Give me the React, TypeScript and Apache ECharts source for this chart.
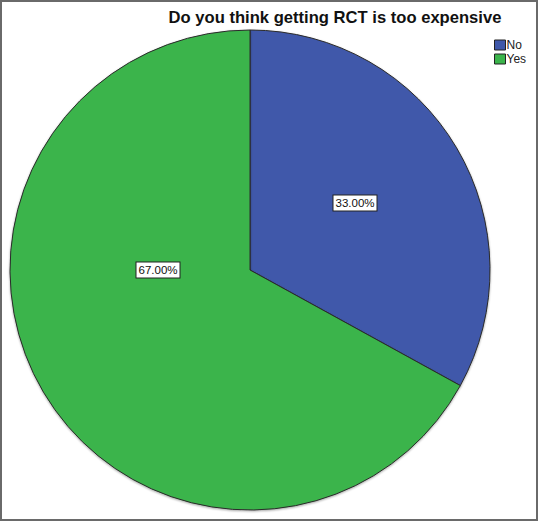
import React, { useEffect, useRef } from "react";
import * as echarts from "echarts";

const categories = ["No", "Yes"];
const values = [33, 67];
const colors = ["#3f58aa", "#3bb44b"];
const titleText = "Do you think getting RCT is too expensive";

export default function App() {
  const ref = useRef<HTMLDivElement>(null);
  useEffect(() => {
    if (!ref.current) return;
    const chart = echarts.init(ref.current, null, { renderer: "svg" });
    const labelSpots = [
      { x: 355, y: 203 },
      { x: 158, y: 270 },
    ];
    chart.setOption({
      animation: false,
      backgroundColor: "#ffffff",
      title: {
        text: titleText,
        left: 330,
        textAlign: "center",
        top: 4,
        textStyle: {
          fontFamily: "Liberation Sans, Arial, sans-serif",
          fontWeight: "bold",
          fontSize: 16.6,
          color: "#111",
        },
      },
      legend: {
        orient: "vertical",
        left: 494,
        top: 39,
        padding: 0,
        itemWidth: 11,
        itemHeight: 10,
        itemGap: 2,
        icon: "rect",
        data: categories,
        textStyle: {
          fontFamily: "Liberation Sans, Arial, sans-serif",
          fontSize: 12,
          color: "#222",
          padding: [0, 0, 0, -4],
        },
        itemStyle: { borderColor: "#222", borderWidth: 1 },
      },
      graphic: [
        {
          type: "rect",
          shape: { x: 1, y: 1, width: 536, height: 519 },
          style: { fill: "none", stroke: "#6a6a6a", lineWidth: 2 },
          silent: true,
          z: 100,
        },
      ],
      series: [
        {
          type: "pie",
          center: [250, 270],
          radius: 240,
          startAngle: 90,
          clockwise: true,
          color: colors,
          itemStyle: {
            borderColor: "#2a2a2a",
            borderWidth: 1,
            shadowColor: "rgba(0,0,0,0.35)",
            shadowBlur: 2,
            shadowOffsetY: 1,
          },
          emphasis: { disabled: true },
          label: {
            show: true,
            position: "inside",
            formatter: (p: any) => p.value.toFixed(2) + "%",
            fontFamily: "Liberation Sans, Arial, sans-serif",
            fontSize: 11.5,
            color: "#111",
            backgroundColor: "#ffffff",
            borderColor: "#222",
            borderWidth: 1,
            padding: [2, 2, 1, 2],
          },
          labelLayout: (params: any) => labelSpots[params.dataIndex],
          data: categories.map((c, i) => ({ name: c, value: values[i] })),
        },
      ],
    });
    return () => chart.dispose();
  }, []);
  return (
    <div
      ref={ref}
      style={{ position: "absolute", left: 0, top: 0, width: 538, height: 521 }}
    />
  );
}
